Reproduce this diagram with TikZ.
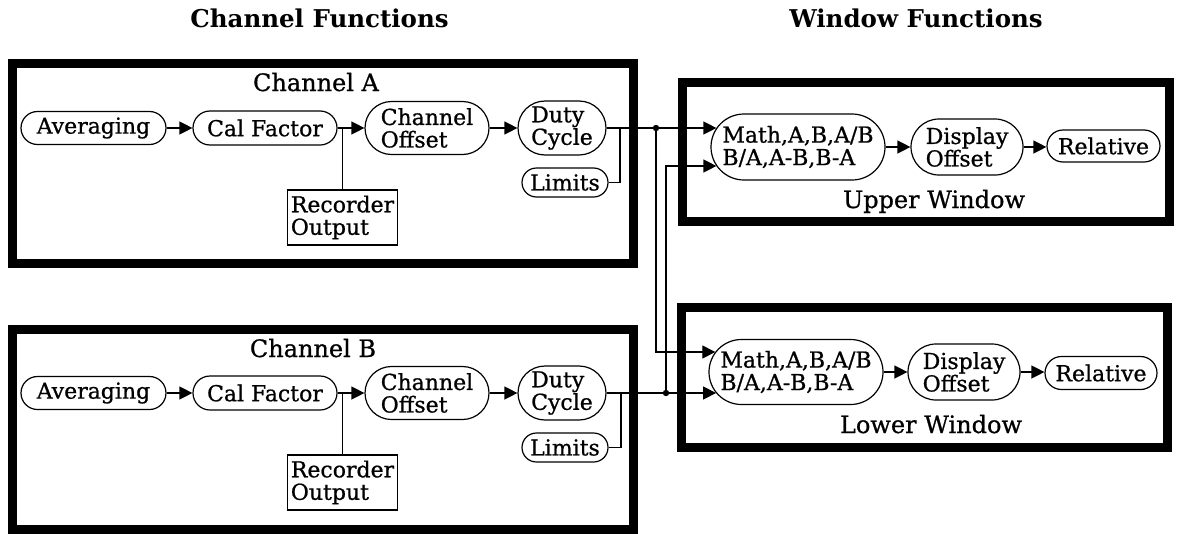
\documentclass[tikz,border=0pt]{standalone}
\usepackage{fontspec}
\setmainfont{DejaVu Serif}[UprightFeatures={FakeBold=0.8}]
\usetikzlibrary{arrows.meta,calc}
\newcommand\nodefont{\fontsize{22}{22.5}\selectfont}
\newcommand\titlefont{\fontsize{24}{28}\selectfont}
\newcommand\headfont{\fontsize{24.5}{28}\selectfont\bfseries}
\begin{document}
\begin{tikzpicture}[x=1pt,y=-1pt,
  conn/.style={line width=1.3pt},
  arr/.style={conn,-{Triangle[length=13pt,width=13pt]}},
  pill/.style 2 args={draw,line width=1.2pt,rectangle,inner sep=0pt,align=left,font=\nodefont,
     minimum width=#1pt,minimum height=#2pt,rounded corners={#2*0.5pt-0.01pt}},
  recbox/.style={draw,line width=1.2pt,rectangle,inner xsep=3pt,inner ysep=0pt,align=left,font=\nodefont,
     minimum width=109pt,minimum height=55pt},
  frame/.style={line width=9pt},
  title/.style={anchor=base,font=\titlefont,inner sep=0pt},
  head/.style={anchor=base,font=\headfont,inner sep=0pt},
  dot/.style={fill,radius=3.2pt}]
\useasboundingbox (0,0) rectangle (1177,533);

% headings
\node[head] (hc) at (319.5,27) {Channel Functions};
\node[head] (hw) at (916,27) {Window Functions};

% frames
\draw[frame] (12.5,63.5) rectangle (633.5,263.5);
\draw[frame] (12.5,329.5) rectangle (633.5,529.5);
\draw[frame] (682.5,82.5) rectangle (1169.5,221.5);
\draw[frame] (681.5,307.5) rectangle (1167.5,447.5);

% frame titles
\node[title] (tA) at (316,91) {Channel A};
\node[title] (tB) at (313,357) {Channel B};
\node[title] (tU) at (934,208) {Upper Window};
\node[title] (tL) at (931,433) {Lower Window};

% Channel A
\node[pill={145}{33}] (avgA) at (93.5,128) {Averaging};
\node[pill={144}{34}] (calA) at (265,128) {Cal Factor};
\node[pill={124}{53}] (offA) at (427,128) {\raisebox{0pt}{Channel}\\Offset};
\node[pill={88}{54}] (dutyA) at (562,128) {Duty\\Cycle};
\node[pill={86}{29}] (limA) at (565,182.5) {Limits};
\node[recbox] (recA) at (342.5,217.5) {Recorder\\Output};

% Channel B
\node[pill={145}{33}] (avgB) at (93.5,393) {Averaging};
\node[pill={144}{34}] (calB) at (265,393) {Cal Factor};
\node[pill={124}{53}] (offB) at (427,393) {Channel\\Offset};
\node[pill={88}{54}] (dutyB) at (562,393) {Duty\\Cycle};
\node[pill={86}{29}] (limB) at (565,447.5) {Limits};
\node[recbox] (recB) at (342.5,482.5) {Recorder\\Output};

% Upper window
\node[pill={174}{66}] (MU) at (798,147) {Math,A,B,A/B\\B/A,A-B,B-A};
\node[pill={112}{56}] (DU) at (967,147) {Display\\Offset};
\node[pill={113}{32}] (RU) at (1103.5,146) {Relative};

% Lower window
\node[pill={174}{65}] (ML) at (796,372) {Math,A,B,A/B\\B/A,A-B,B-A};
\node[pill={112}{56}] (DL) at (964,372) {Display\\Offset};
\node[pill={112}{33}] (RL) at (1101,373) {Relative};

% Channel A connectors
\draw[arr] (avgA.east) -- (calA.west);
\draw[arr] (calA.east) -- (offA.west);
\draw[conn] (recA.north) -- (recA.north |- calA.east);
\draw[arr] (offA.east) -- (dutyA.west);
\coordinate (jA) at (620,128);
\draw[conn] (limA.east) -| (jA);
\coordinate (dA) at (656,128);

% Channel B connectors
\draw[arr] (avgB.east) -- (calB.west);
\draw[arr] (calB.east) -- (offB.west);
\draw[conn] (recB.north) -- (recB.north |- calB.east);
\draw[arr] (offB.east) -- (dutyB.west);
\coordinate (jB) at (621,393);
\draw[conn] (limB.east) -| (jB);
\coordinate (dB) at (666,393);

% cross connections
\draw[arr] (dutyA.east) -- ($(MU.west)+(6,-19)$);
\draw[arr] (dA) |- ($(ML.west)+(6.9,-20)$);
\draw[arr] (dutyB.east) -- ($(ML.west)+(7.7,21)$);
\draw[arr] (dB) |- ($(MU.west)+(6,19)$);
\fill[dot] (dA) circle;
\fill[dot] (dB) circle;

% window connectors
\draw[arr] (MU.east) -- (DU.west);
\draw[arr] (DU.east) -- (DU.east -| RU.west);
\draw[arr] (ML.east) -- (DL.west);
\draw[arr] (DL.east) -- (DL.east -| RL.west);
\end{tikzpicture}
\end{document}
